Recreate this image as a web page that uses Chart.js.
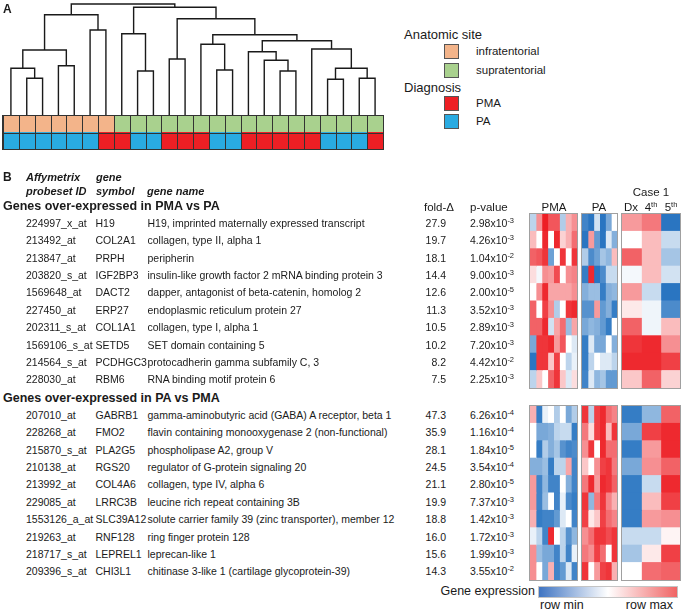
<!DOCTYPE html>
<html>
<head>
<meta charset="utf-8">
<script src="https://cdn.jsdelivr.net/npm/chart.js@4/dist/chart.umd.min.js"></script>
<style>
  body { margin: 0; background: #fff; }
  #page { position: relative; width: 683px; height: 612px; overflow: hidden;
          font-family: "Liberation Sans", Arial, sans-serif; color: #1a1a1a; }
  #page canvas { position: absolute; }
  .t { position: absolute; white-space: nowrap; line-height: 14px; height: 14px; }
  .sup { font-size: 7.5px; vertical-align: 4px; line-height: 0; }
  .box { position: absolute; width: 13px; height: 13px; border: 1px solid #555; }
</style>
</head>
<body>
<div id="page">
  <canvas id="dendro" width="382" height="117" style="left:2px;top:0px"></canvas>
  <canvas id="annot" width="382" height="35" style="left:2px;top:115px"></canvas>
  <canvas id="pmaTopChart" width="49" height="176" style="left:529px;top:213px"></canvas>
  <canvas id="paTopChart" width="37" height="176" style="left:581px;top:213px"></canvas>
  <canvas id="caseTopChart" width="60" height="176" style="left:621px;top:213px"></canvas>
  <canvas id="pmaBottomChart" width="49" height="176" style="left:529px;top:405px"></canvas>
  <canvas id="paBottomChart" width="37" height="176" style="left:581px;top:405px"></canvas>
  <canvas id="caseBottomChart" width="60" height="176" style="left:621px;top:405px"></canvas>
</div>
<script>
// ---- panel A: clustering of the 24 samples (leaves numbered left to right)
const mergeLeft = [1, 0, 3, 25, 5, 27, 8, 7, 10, 13, 12, 17, 16, 15, 20, 22, 38, 19, 37, 34, 32, 31, 29];
const mergeRight = [2, 24, 4, 26, 6, 28, 9, 30, 11, 14, 33, 18, 35, 36, 21, 23, 39, 40, 41, 42, 43, 44, 45];
const mergeHeight = [37.7, 47.7, 50.3, 66, 86, 101.3, 45, 82.3, 57, 46, 71.7, 45, 55.7, 64.3, 36.7, 37.7, 47.7, 67, 75.3, 81.3, 97.3, 108.7, 112];

// I = infratentorial, S = supratentorial ; M = PMA, P = PA
const anatomicSite = ['I', 'I', 'I', 'I', 'I', 'I', 'I', 'S', 'S', 'S', 'S', 'S', 'S', 'S', 'S', 'S', 'S', 'S', 'S', 'S', 'S', 'S', 'S', 'S'];
const diagnosis = ['P', 'P', 'P', 'P', 'P', 'P', 'M', 'M', 'P', 'P', 'M', 'M', 'M', 'P', 'P', 'M', 'M', 'M', 'M', 'M', 'P', 'P', 'P', 'M'];

// ---- panel B: genes
const topProbes = ['224997_x_at', '213492_at', '213847_at', '203820_s_at', '1569648_at', '227450_at', '202311_s_at', '1569106_s_at', '214564_s_at', '228030_at'];
const topSymbols = ['H19', 'COL2A1', 'PRPH', 'IGF2BP3', 'DACT2', 'ERP27', 'COL1A1', 'SETD5', 'PCDHGC3', 'RBM6'];
const topNames = ['H19, imprinted maternally expressed transcript', 'collagen, type II, alpha 1', 'peripherin',
    'insulin-like growth factor 2 mRNA binding protein 3', 'dapper, antagonist of beta-catenin, homolog 2',
    'endoplasmic reticulum protein 27', 'collagen, type I, alpha 1', 'SET domain containing 5',
    'protocadherin gamma subfamily C, 3', 'RNA binding motif protein 6'];
const topFold = [27.9, 19.7, 18.1, 14.4, 12.6, 11.3, 10.5, 10.2, 8.2, 7.5];
const topPMant = ['2.98', '4.26', '1.04', '9.00', '2.00', '3.52', '2.89', '7.20', '4.42', '2.25'];
const topPExp = [-3, -3, -2, -3, -5, -3, -3, -3, -2, -3];

const bottomProbes = ['207010_at', '228268_at', '215870_s_at', '210138_at', '213992_at', '229085_at', '1553126_a_at', '219263_at', '218717_s_at', '209396_s_at'];
const bottomSymbols = ['GABRB1', 'FMO2', 'PLA2G5', 'RGS20', 'COL4A6', 'LRRC3B', 'SLC39A12', 'RNF128', 'LEPREL1', 'CHI3L1'];
const bottomNames = ['gamma-aminobutyric acid (GABA) A receptor, beta 1', 'flavin containing monooxygenase 2 (non-functional)',
    'phospholipase A2, group V', 'regulator of G-protein signaling 20', 'collagen, type IV, alpha 6',
    'leucine rich repeat containing 3B', 'solute carrier family 39 (zinc transporter), member 12',
    'ring finger protein 128', 'leprecan-like 1', 'chitinase 3-like 1 (cartilage glycoprotein-39)'];
const bottomFold = [47.3, 35.9, 28.1, 24.5, 21.1, 19.9, 18.8, 16.0, 15.6, 14.3];
const bottomPMant = ['6.26', '1.16', '1.84', '3.54', '2.80', '7.37', '1.42', '1.72', '1.99', '3.55'];
const bottomPExp = [-4, -4, -5, -4, -5, -3, -3, -3, -3, -2];

// row-scaled expression, -1 = row min (blue), +1 = row max (red)
const pmaTop = [
    [-0.3, 0.5, 1, 0.75, 0.75, -0.35, 0.35, 0.5],
    [0.3, 0, 0.95, 0, 0.95, 0.2, 0.35, 0.65],
    [0.7, 0.75, 0.9, -0.65, 0, 0.9, 0, 0.9],
    [0.15, -0.05, 0.5, 0.45, 0.8, 0, 0.5, 0.55],
    [0, 0.5, 0.95, 0.4, 0.4, 0.4, 0.4, 0.5],
    [0.7, 0, 0.85, 0.5, -0.35, 0, 0.9, 0.95],
    [0.7, 0.7, 0.95, -0.2, 0.4, 0.65, -0.45, 0.4],
    [-0.6, 0.9, 0.9, 0.95, 0.45, 0.75, 0, -0.15],
    [-0.95, 0.9, 0.9, 0.25, 0.85, 0, -0.3, -0.1],
    [-0.3, 0.25, 0, 0.7, 0.9, 0.25, -0.15, 0.15],
];
const paTop = [
    [-0.85, -0.95, -0.2, -0.95, -0.6, 0],
    [-0.95, 0.45, -0.7, -0.95, -0.15, -0.55],
    [-0.35, -0.8, -0.65, -0.4, -0.5, 0.3],
    [-0.9, 0.95, -0.95, -0.8, -0.25, -0.25],
    [-0.55, -0.45, -0.45, -0.9, -0.55, -0.5],
    [-0.75, -0.75, 0.45, -0.7, -0.55, -0.9],
    [-0.6, -0.5, -0.55, -0.7, -0.9, 0],
    [-0.9, -0.15, -0.6, -0.6, 0, -0.55],
    [-0.9, -0.3, 0, -0.15, -0.15, -0.3],
    [-0.85, -0.15, -0.5, -0.4, -0.7, -0.7],
];
const caseTop = [
    [0.45, 0.6, -0.95],
    [0, 0.3, -0.25],
    [0.7, 0.3, -0.4],
    [-0.05, 0.3, -0.2],
    [0.45, -0.25, -0.95],
    [0.1, -0.07, -0.8],
    [0.7, -0.07, 0.3],
    [0.9, 0.95, 0.5],
    [0.95, 0.95, 0.85],
    [0.25, 0.7, 0.2],
];
const pmaBottom = [
    [0.35, -0.9, -0.1, 0, -0.35, 0, -0.6, -0.35],
    [0, -0.6, -0.6, -0.55, -0.3, -0.25, -0.25, -0.9],
    [0, -0.9, -0.35, -0.55, -0.4, -0.75, -0.85, -0.8],
    [-0.55, -0.55, -0.45, -0.9, -0.3, -0.3, 0.4, -0.85],
    [0.45, -0.85, -0.5, -0.85, -0.85, 0, -0.55, -0.85],
    [0.45, -0.85, -0.45, 0, -0.85, -0.1, -0.8, -0.9],
    [0.35, -0.9, -0.85, -0.85, -0.7, -0.15, 0, -0.85],
    [-0.1, -0.3, -0.85, 0.95, 0, -0.3, -0.75, -0.5],
    [0.5, -0.45, -0.6, -0.6, -0.85, -0.3, -0.85, -0.1],
    [0.5, 0, -0.6, 0.35, -0.85, -0.7, -0.15, -0.85],
];
const paBottom = [
    [0.9, -0.3, 0.85, 0.95, 0.65, 0.55],
    [0.6, 0.15, 0.85, 0.95, 0.3, 0.9],
    [0.5, 0.9, 0, 0.95, 0.65, 0.65],
    [0.25, 0, 0.5, 0.85, 0.9, 0.6],
    [0.6, 0.95, 0.45, 0.95, 0.9, 0.7],
    [0.9, -0.5, 0.6, 0.9, 0.55, 0.35],
    [0.85, 0.1, 0.25, 0.85, 0.65, 0.55],
    [0.5, 0.65, 0.9, 0.9, 0.8, 0.9],
    [0.6, 0.5, 0.85, 0.65, 0, 0.9],
    [0.9, 0, 0.45, 0.85, 0.9, 0.35],
];
const caseBottom = [
    [-0.9, -0.5, 0.7],
    [-0.6, 0.85, 0.95],
    [-0.9, 0.45, 0.95],
    [-0.6, 0.5, 0.7],
    [-0.9, -0.25, 0.95],
    [-0.9, 0.3, 0.85],
    [-0.9, 0.45, 0.5],
    [-0.25, -0.25, 0.05],
    [-0.4, 0.1, 0.85],
    [0, 0.65, 0.7],
];

const siteColors = { I: '#f3b48a', S: '#a9d18e' };
const diagColors = { M: '#ed1f24', P: '#29abe2' };

function heatColor(v) {
    const end = v < 0 ? [31, 110, 190] : [237, 30, 36];
    const t = Math.min(1, Math.abs(v));
    const c = end.map((e) => Math.round(255 + (e - 255) * t));
    return `rgb(${c[0]}, ${c[1]}, ${c[2]})`;
}

const framePlugin = {
    id: 'frame',
    afterDraw(chart, args, opts) {
        const { ctx, chartArea: a, scales } = chart;
        ctx.save();
        ctx.strokeStyle = opts.color || '#9a9a9a';
        ctx.lineWidth = 1;
        if (opts.grid) {
            ctx.beginPath();
            for (let c = 0; c <= scales.x.max; c++) {
                const x = Math.round(scales.x.getPixelForValue(c)) + 0.5;
                ctx.moveTo(x, a.top);
                ctx.lineTo(x, a.bottom);
            }
            const n = chart.data.labels.length;
            for (let r = 1; r < n; r++) {
                const y = Math.round((scales.y.getPixelForValue(r - 1) + scales.y.getPixelForValue(r)) / 2) + 0.5;
                ctx.moveTo(a.left, y);
                ctx.lineTo(a.right, y);
            }
            ctx.stroke();
        }
        ctx.strokeRect(a.left - 0.5, a.top - 0.5, a.right - a.left + 1, a.bottom - a.top + 1);
        ctx.restore();
    },
};

function cellChart(id, colorRows, frame) {
    const nCols = colorRows[0].length;
    const datasets = [];
    for (let c = 0; c < nCols; c++) {
        datasets.push({
            data: colorRows.map(() => 1),
            backgroundColor: colorRows.map((r) => r[c]),
            borderWidth: 0,
            barPercentage: 1,
            categoryPercentage: 1,
            inflateAmount: 0.5,
        });
    }
    new Chart(document.getElementById(id), {
        type: 'bar',
        data: { labels: colorRows.map((_, i) => i), datasets },
        options: {
            indexAxis: 'y',
            responsive: false,
            animation: false,
            events: [],
            layout: { padding: 1 },
            plugins: { legend: { display: false }, tooltip: { enabled: false }, frame },
            scales: {
                x: { stacked: true, display: false, min: 0, max: nCols },
                y: { stacked: true, display: false },
            },
        },
        plugins: [framePlugin],
    });
}

function heatmap(id, rows) {
    cellChart(id, rows.map((r) => r.map(heatColor)), { color: '#a0a0a0' });
}

// dendrogram
function dendrogram() {
    const nLeaves = anatomicSite.length;
    const nodeX = [];
    const nodeH = [];
    for (let i = 0; i < nLeaves; i++) {
        nodeX.push(i + 0.5);
        nodeH.push(0);
    }
    const datasets = [];
    mergeHeight.forEach((h, k) => {
        const l = mergeLeft[k];
        const r = mergeRight[k];
        nodeX.push((nodeX[l] + nodeX[r]) / 2);
        nodeH.push(h);
        datasets.push({
            data: [
                { x: nodeX[l], y: nodeH[l] },
                { x: nodeX[l], y: h },
                { x: nodeX[r], y: h },
                { x: nodeX[r], y: nodeH[r] },
            ],
            showLine: true,
            borderColor: '#1a1a1a',
            borderWidth: 1.4,
            pointRadius: 0,
            tension: 0,
            clip: false,
        });
    });
    new Chart(document.getElementById('dendro'), {
        type: 'scatter',
        data: { datasets },
        options: {
            responsive: false,
            animation: false,
            events: [],
            layout: { padding: { left: 1, right: 1, top: 0, bottom: 1 } },
            plugins: { legend: { display: false }, tooltip: { enabled: false } },
            scales: {
                x: { type: 'linear', display: false, min: 0, max: nLeaves },
                y: { type: 'linear', display: false, min: 0, max: 116 },
            },
        },
    });
}

dendrogram();
cellChart('annot', [anatomicSite.map((s) => siteColors[s]), diagnosis.map((d) => diagColors[d])],
    { color: '#333333', grid: true });

heatmap('pmaTopChart', pmaTop);
heatmap('paTopChart', paTop);
heatmap('caseTopChart', caseTop);
heatmap('pmaBottomChart', pmaBottom);
heatmap('paBottomChart', paBottom);
heatmap('caseBottomChart', caseBottom);

// ---- texts
const page = document.getElementById('page');

function addText(html, x, cy, style = {}) {
    const d = document.createElement('div');
    d.className = 't';
    d.innerHTML = html;
    d.style.top = (cy - 7) + 'px';
    if (style.align === 'right') {
        d.style.right = (683 - x) + 'px';
    } else if (style.align === 'center') {
        d.style.left = (x - 100) + 'px';
        d.style.width = '200px';
        d.style.textAlign = 'center';
    } else {
        d.style.left = x + 'px';
    }
    d.style.fontSize = (style.size || 10.5) + 'px';
    if (style.bold) d.style.fontWeight = 'bold';
    if (style.italic) d.style.fontStyle = 'italic';
    page.appendChild(d);
}

function addBox(color, x, y) {
    const b = document.createElement('div');
    b.className = 'box';
    b.style.left = x + 'px';
    b.style.top = y + 'px';
    b.style.background = color;
    page.appendChild(b);
}

addText('A', 3, 9, { size: 12, bold: true });
addText('Anatomic site', 404, 35, { size: 13 });
addBox(siteColors.I, 444, 44);
addText('infratentorial', 476, 51, { size: 11.5 });
addBox(siteColors.S, 444, 63);
addText('supratentorial', 476, 70, { size: 11.5 });
addText('Diagnosis', 404, 88, { size: 13 });
addBox(diagColors.M, 444, 96);
addText('PMA', 476, 103, { size: 11.5 });
addBox(diagColors.P, 444, 114);
addText('PA', 476, 121, { size: 11.5 });

addText('B', 3, 177, { size: 12, bold: true });
addText('Affymetrix', 26, 177, { size: 11, bold: true, italic: true });
addText('gene', 96, 177, { size: 11, bold: true, italic: true });
addText('probeset ID', 26, 191, { size: 11, bold: true, italic: true });
addText('symbol', 96, 191, { size: 11, bold: true, italic: true });
addText('gene name', 147, 191, { size: 11, bold: true, italic: true });
addText('Genes over-expressed in PMA vs PA', 3, 206, { size: 12.5, bold: true });
addText('Genes over-expressed in PA vs PMA', 3, 398, { size: 12.5, bold: true });
addText('fold-Δ', 439, 207, { size: 11.5, align: 'center' });
addText('p-value', 470, 207, { size: 11.5 });
addText('PMA', 554, 207, { size: 11.5, align: 'center' });
addText('PA', 599, 207, { size: 11.5, align: 'center' });
addText('Case 1', 651, 192, { size: 11.5, align: 'center' });
addText('Dx', 631, 207, { size: 11.5, align: 'center' });
addText('4<span class="sup">th</span>', 651, 207, { size: 11.5, align: 'center' });
addText('5<span class="sup">th</span>', 671, 207, { size: 11.5, align: 'center' });

function geneRows(top, probes, symbols, names, fold, mant, exp) {
    const rowH = 174 / probes.length;
    probes.forEach((p, i) => {
        const cy = top + rowH * (i + 0.5);
        addText(p, 26, cy);
        addText(symbols[i], 95.5, cy);
        addText(names[i], 147.5, cy);
        addText(fold[i].toFixed(1), 446, cy, { align: 'right' });
        addText(`${mant[i]}x10<span class="sup">${exp[i]}</span>`, 470, cy);
    });
}
geneRows(214, topProbes, topSymbols, topNames, topFold, topPMant, topPExp);
geneRows(406, bottomProbes, bottomSymbols, bottomNames, bottomFold, bottomPMant, bottomPExp);

// colour key
addText('Gene expression', 535, 591, { size: 12.5, align: 'right' });
const key = document.createElement('div');
key.style.cssText = 'position:absolute;left:538px;top:586px;width:138px;height:10px;border:1px solid #c4c4c4;' +
    'background:linear-gradient(to right, #3f74c2, #ffffff 50%, #f06464);';
page.appendChild(key);
addText('row min', 540, 605, { size: 12.5 });
addText('row max', 673, 605, { size: 12.5, align: 'right' });
</script>
</body>
</html>
